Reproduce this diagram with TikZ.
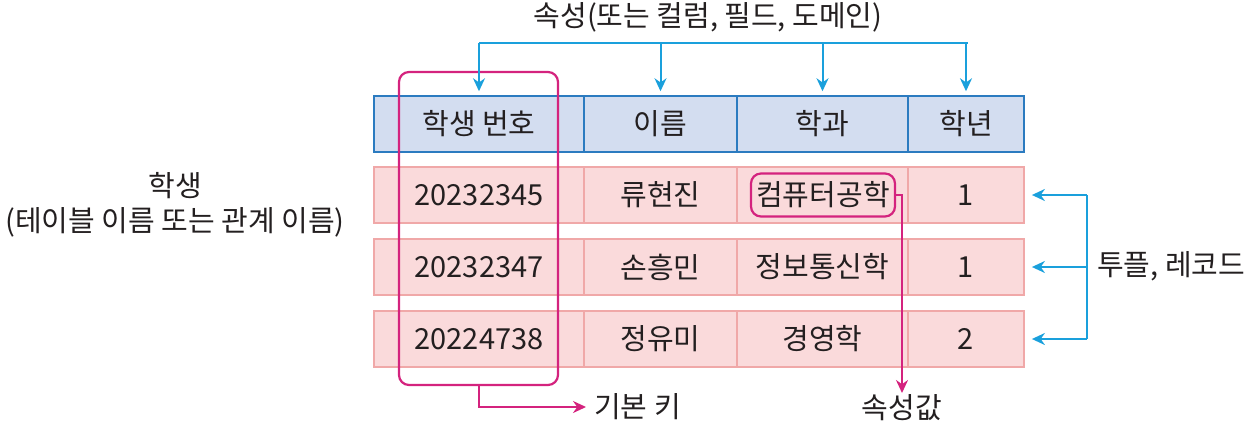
\documentclass[tikz,border=0pt]{standalone}
\usepackage{fontspec}
\setmainfont{Noto Sans CJK KR}
\usetikzlibrary{arrows.meta}
\definecolor{hfill}{HTML}{D3DDF0}
\definecolor{hdraw}{HTML}{2B7BC0}
\definecolor{rfill}{HTML}{FADADB}
\definecolor{rdraw}{HTML}{F0A8A8}
\definecolor{keyc}{HTML}{D4237E}
\definecolor{cyanc}{HTML}{1AA0DC}
\definecolor{txt}{HTML}{231F20}
\tikzset{
  lbl/.style={font=\fontsize{29}{34}\selectfont, text=txt, inner sep=1pt},
  hcell/.style={lbl, draw=hdraw, fill=hfill, line width=1.5pt, minimum height=56pt, inner sep=0pt},
  rcell/.style={lbl, draw=rdraw, fill=rfill, line width=1.8pt, minimum height=56pt, inner sep=0pt},
  keybox/.style={draw=keyc, line width=2.2pt, rounded corners=10pt, inner sep=0pt},
  keyarrow/.style={draw=keyc, line width=2pt, -{Stealth[length=13pt,width=12pt]}},
  cyanline/.style={draw=cyanc, line width=2pt},
  cyanarrow/.style={cyanline, -{Stealth[length=13pt,width=12pt]}},
}
\begin{document}
\begin{tikzpicture}[x=1pt,y=-1pt]
\useasboundingbox (0,0) rectangle (1249,426);
% header
\node[hcell, minimum width=210pt] (h1) at (479,124) {학생 번호};
\node[hcell, minimum width=153pt] (h2) at (660.5,124) {이름};
\node[hcell, minimum width=171pt] (h3) at (822.5,124) {학과};
\node[hcell, minimum width=116pt] (h4) at (966,124) {학년};
% rows
\node[rcell, minimum width=210pt] (r1c1) at (479,195) {20232345};
\node[rcell, minimum width=153pt] (r1c2) at (660.5,195) {류현진};
\node[rcell, minimum width=171pt] (r1c3) at (822.5,195) {};
\node[rcell, minimum width=116pt] (r1c4) at (966,195) {1};
\node[rcell, minimum width=210pt] (r2c1) at (479,267) {20232347};
\node[rcell, minimum width=153pt] (r2c2) at (660.5,267) {손흥민};
\node[rcell, minimum width=171pt] (r2c3) at (822.5,267) {정보통신학};
\node[rcell, minimum width=116pt] (r2c4) at (966,267) {1};
\node[rcell, minimum width=210pt] (r3c1) at (479,339) {20224738};
\node[rcell, minimum width=153pt] (r3c2) at (660.5,339) {정유미};
\node[rcell, minimum width=171pt] (r3c3) at (822.5,339) {경영학};
\node[rcell, minimum width=116pt] (r3c4) at (966,339) {2};
% attribute value box
\node[lbl, keybox, minimum width=144pt, minimum height=43pt] (cv) at (823,195) {컴퓨터공학};
% key box
\node[keybox, minimum width=159pt, minimum height=313pt] (key) at (478.5,228.5) {};
% labels
\node[lbl] (title) at (708,17) {속성(또는 컬럼, 필드, 도메인)};
\node[lbl] (tbl1) at (175,186) {학생};
\node[lbl] (tbl2) at (175,222) {(테이블 이름 또는 관계 이름)};
\node[lbl, anchor=west] (kt) at (593,407) {기본 키};
\node[lbl, anchor=north] (av) at (902,393) {속성값};
\node[lbl, anchor=west] (tp) at (1096,266) {투플, 레코드};
% top arrows
\coordinate (tl) at (479,43);
\coordinate (tr) at (968,43);
\draw[cyanline] (tl) -- (tr);
\foreach \h in {h1,h2,h3,h4} \draw[cyanarrow, shorten >=4pt] (\h.north |- tl) -- (\h.north);
% right arrows
\coordinate (rt) at (1087,195);
\coordinate (rb) at (1087,339);
\draw[cyanline] (rt) -- (rb);
\foreach \r in {r1c4,r2c4,r3c4} \draw[cyanarrow, shorten >=7pt] (rt |- \r.east) -- (\r.east);
% key arrow
\draw[keyarrow, shorten >=7pt] (key.south) |- (kt.west);
% attribute value arrow
\draw[keyarrow] (cv.east) -| (av.north);
\end{tikzpicture}
\end{document}
